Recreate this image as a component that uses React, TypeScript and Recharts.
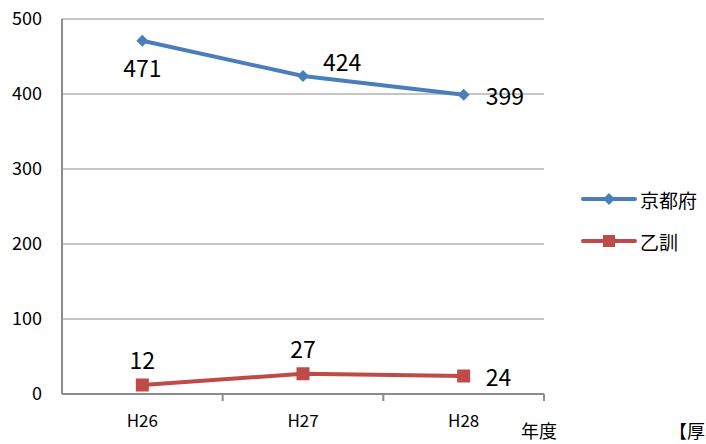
import { ComposedChart, Line, XAxis, YAxis, CartesianGrid, Legend } from 'recharts';

const YEARS = ['H26', 'H27', 'H28'];
const KYOTO = [471, 424, 399];
const OTOKUNI = [12, 27, 24];
const Y_TICKS = [0, 100, 200, 300, 400, 500];
const SERIES_ORDER = ['kyoto', 'otokuni'];

const BLUE = '#4a7ebb';
const RED = '#be4b48';
const AXIS = '#8c8c8c';
const FONT = '"Noto Sans CJK JP", "Noto Sans", sans-serif';

const CHART_W = 706;
const MARGIN_RIGHT = 162;
const Y_AXIS_W = 62;
const PLOT_W = CHART_W - MARGIN_RIGHT - Y_AXIS_W;
const HALF_BAND = PLOT_W / 6; // three year bands, each point in the middle of its band
const TICK_GAP = 14;

const data = YEARS.map((year, i) => ({ year, kyoto: KYOTO[i], otokuni: OTOKUNI[i] }));

// where each value label sits relative to its point
const labelSpots: Record<string, string[]> = {
  kyoto: ['below', 'upRight', 'right'],
  otokuni: ['above', 'above', 'right'],
};

const makeLabel = (key: string) => (props: any) => {
  const { x, y, value, index } = props;
  const spot = labelSpots[key][index];
  let tx = x;
  let ty = y;
  let anchor: 'start' | 'middle' = 'middle';
  if (spot === 'below') ty = y + 36;
  else if (spot === 'above') ty = y - 16;
  else if (spot === 'upRight') { tx = x + 20; ty = y - 5; anchor = 'start'; }
  else { tx = x + 22; ty = y + 10; anchor = 'start'; }
  return (
    <text x={tx} y={ty} fontSize={23} fill="#000" textAnchor={anchor} fontFamily={FONT}>
      {value}
    </text>
  );
};

const Diamond = (props: any) => {
  const { cx, cy } = props;
  const r = 6;
  return <polygon points={`${cx},${cy - r} ${cx + r},${cy} ${cx},${cy + r} ${cx - r},${cy}`} fill={BLUE} />;
};

const Square = (props: any) => {
  const { cx, cy } = props;
  const s = 13;
  return <rect x={cx - s / 2} y={cy - s / 2} width={s} height={s} fill={RED} />;
};

// year label centred on the point, tick mark on the right edge of its band
const YearTick = (props: any) => {
  const { x, y, payload } = props;
  const axisY = y - TICK_GAP - 6;
  const edge = x + HALF_BAND;
  return (
    <g>
      <line x1={edge} y1={axisY} x2={edge} y2={axisY + 7} stroke={AXIS} strokeWidth={2} />
      <text x={x} y={y} dy={13} textAnchor="middle" fontSize={17} fill="#000" fontFamily={FONT}>
        {payload.value}
      </text>
    </g>
  );
};

const renderLegend = (props: any) => {
  const payload = [...props.payload].sort(
    (a: any, b: any) => SERIES_ORDER.indexOf(a.dataKey) - SERIES_ORDER.indexOf(b.dataKey)
  );
  return (
    <div style={{ fontFamily: FONT }}>
      {payload.map((p: any) => (
        <div key={p.value} style={{ display: 'flex', alignItems: 'center', height: 42 }}>
          <svg width={56} height={16}>
            <line x1={2} y1={8} x2={54} y2={8} stroke={p.color} strokeWidth={4} strokeLinecap="round" />
            {p.dataKey === 'kyoto' ? (
              <polygon points="28,2 34,8 28,14 22,8" fill={p.color} />
            ) : (
              <rect x={22} y={2} width={12} height={12} fill={p.color} />
            )}
          </svg>
          <span style={{ fontSize: 19, marginLeft: 3, color: '#000' }}>{p.value}</span>
        </div>
      ))}
    </div>
  );
};

export default function App() {
  return (
    <div style={{ position: 'absolute', left: 0, top: 0, width: 706, height: 444, overflow: 'hidden', background: '#fff' }}>
      <ComposedChart width={CHART_W} height={444} data={data} margin={{ top: 19, right: MARGIN_RIGHT, bottom: 20, left: 0 }}>
        <CartesianGrid vertical={false} stroke={AXIS} />
        <XAxis
          dataKey="year"
          padding={{ left: HALF_BAND, right: HALF_BAND }}
          axisLine={{ stroke: AXIS, strokeWidth: 2 }}
          tickLine={false}
          tick={<YearTick />}
          tickMargin={TICK_GAP}
          interval={0}
          height={30}
        />
        <YAxis
          domain={[0, 500]}
          ticks={Y_TICKS}
          width={Y_AXIS_W}
          axisLine={{ stroke: AXIS, strokeWidth: 2 }}
          tickLine={false}
          tickMargin={14}
          tick={{ fontSize: 18, fill: '#000', fontFamily: FONT }}
        />
        <Legend
          layout="horizontal"
          verticalAlign="middle"
          align="center"
          content={renderLegend}
          wrapperStyle={{ left: 581, top: 178, width: 125 }}
        />
        <Line
          dataKey="kyoto"
          name="京都府"
          stroke={BLUE}
          strokeWidth={4}
          dot={<Diamond />}
          activeDot={false}
          label={makeLabel('kyoto')}
          isAnimationActive={false}
        />
        <Line
          dataKey="otokuni"
          name="乙訓"
          stroke={RED}
          strokeWidth={4}
          dot={<Square />}
          activeDot={false}
          label={makeLabel('otokuni')}
          isAnimationActive={false}
        />
      </ComposedChart>
      <div style={{ position: 'absolute', left: 521, top: 417, fontSize: 18, fontFamily: FONT, color: '#000' }}>年度</div>
      <div style={{ position: 'absolute', left: 669, top: 417, fontSize: 18, fontFamily: FONT, color: '#000', whiteSpace: 'nowrap' }}>【厚生労働省調べ】</div>
    </div>
  );
}
